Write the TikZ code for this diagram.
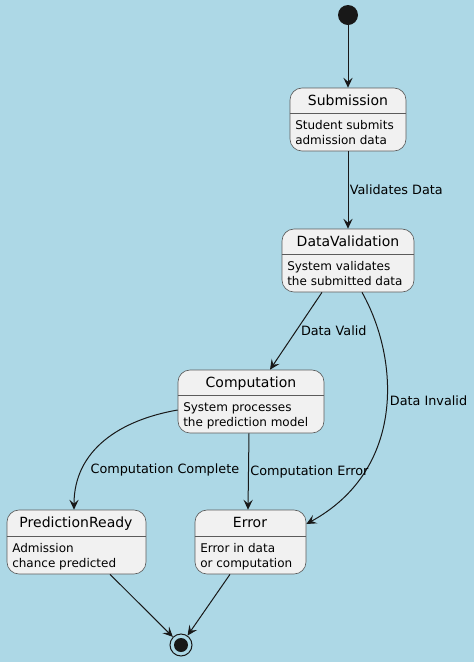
\documentclass[tikz,border=0pt]{standalone}
\usepackage{fontspec}
\setmainfont{DejaVu Sans}
\usetikzlibrary{arrows.meta, positioning, fit, calc}
\definecolor{bgblue}{HTML}{ADD8E6}
\definecolor{statefill}{HTML}{F1F1F1}
\definecolor{stateline}{HTML}{5B5B5B}
\definecolor{ink}{HTML}{181818}

\begin{document}
\begin{tikzpicture}[
    x=0.75pt, y=-0.75pt,
    state/.style={rectangle, draw=stateline, fill=statefill, rounded corners=9pt, inner sep=0pt, line width=0.5pt},
    title/.style={font=\fontsize{10.5}{12}\selectfont, anchor=base, inner sep=0pt},
    body/.style={font=\fontsize{9}{11.25}\selectfont, align=left, anchor=north west, inner sep=0pt},
    divider/.style={draw=stateline, line width=0.5pt},
    arrow/.style={-{Stealth[length=7.5pt, width=7pt, inset=3pt]}, draw=ink, line width=0.75pt},
    lbl/.style={font=\fontsize{9.6}{12}\selectfont, text=black, inner sep=1pt},
]

% Background
\fill[bgblue] (0,0) rectangle (474,662);
\useasboundingbox (0,0) rectangle (474,662);

% Start and end
\node[circle, fill=ink, minimum size=15pt, inner sep=0pt] (start) at (348,15) {};
\node[circle, draw=ink, line width=0.75pt, minimum size=16.5pt, inner sep=0pt] (end) at (181,645) {};
\node[circle, fill=ink, minimum size=10.5pt, inner sep=0pt] (endDot) at (end) {};

% States
\node[state, fit={(290,88) (406,151)}] (sub) {};
\node[title] (subTitle) at (348,105.5) {Submission};
\draw[divider] (sub.west |- 0,113) -- (sub.east |- 0,113);
\node[body] (subBody) at (295,120) {Student submits\\admission data};

\node[state, fit={(282,229) (414,292)}] (dv) {};
\node[title] (dvTitle) at (348,246.5) {DataValidation};
\draw[divider] (dv.west |- 0,254) -- (dv.east |- 0,254);
\node[body] (dvBody) at (287,261) {System validates\\the submitted data};

\node[state, fit={(178,370) (324,433)}] (comp) {};
\node[title] (compTitle) at (251,387.5) {Computation};
\draw[divider] (comp.west |- 0,395) -- (comp.east |- 0,395);
\node[body] (compBody) at (183,402) {System processes\\the prediction model};

\node[state, fit={(7,510) (146,574)}] (pred) {};
\node[title] (predTitle) at (76,527.5) {PredictionReady};
\draw[divider] (pred.west |- 0,536) -- (pred.east |- 0,536);
\node[body] (predBody) at (12,543) {Admission\\chance predicted};

\node[state, fit={(195,510) (306,574)}] (err) {};
\node[title] (errTitle) at (250,527.5) {Error};
\draw[divider] (err.west |- 0,536) -- (err.east |- 0,536);
\node[body] (errBody) at (200,543) {Error in data\\or computation};

% Transitions
\draw[arrow] (start) -- (sub);
\draw[arrow] (sub) -- node[lbl, right, pos=0.49] {Validates Data} (dv);
\draw[arrow] (dv.south -| 322,0) -- node[lbl, right, pos=0.49, xshift=2pt] {Data Valid} (comp.north -| 270,0);
\draw[arrow] (dv.south -| 362,0) .. controls (400,360) and (405,470) .. node[lbl, anchor=west, pos=0.45, inner sep=2pt] {Data Invalid} (err.east |- 0,524);
\draw[arrow] (comp.west |- 0,410) .. controls (120,420) and (74,450) .. node[lbl, anchor=west, pos=0.75, xshift=5pt] {Computation Complete} (pred.north -| 74,0);
\draw[arrow] (comp.south -| 249,0) -- node[lbl, anchor=west, pos=0.5] {Computation Error} (err.north -| 248,0);
\draw[arrow] (pred.south -| 110,0) -- (end);
\draw[arrow] (err.south -| 230,0) -- (end);

\end{tikzpicture}
\end{document}
